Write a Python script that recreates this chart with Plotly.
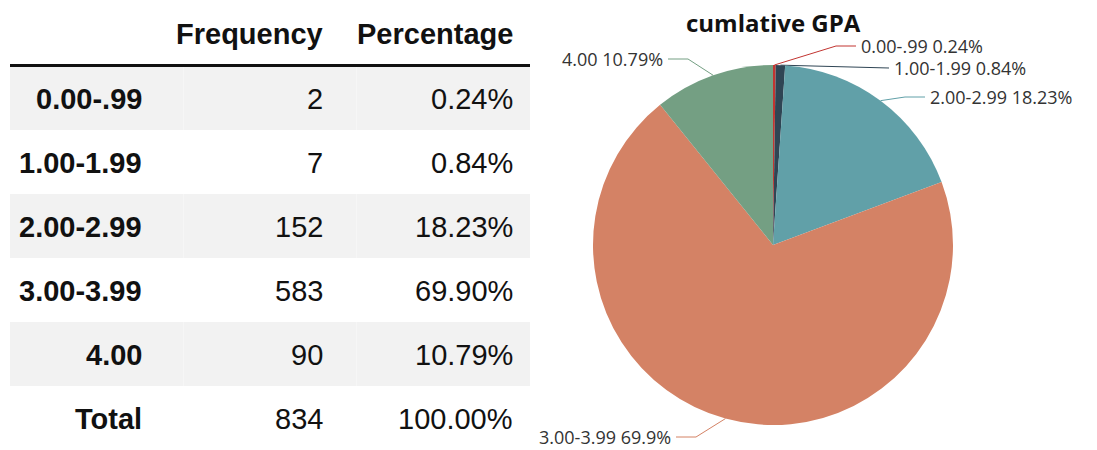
import numpy as np
import plotly.graph_objects as go

# ---------------- data ----------------
categories = ["0.00-.99", "1.00-1.99", "2.00-2.99", "3.00-3.99", "4.00"]
frequency = [2, 7, 152, 583, 90]
percent_table = ["0.24%", "0.84%", "18.23%", "69.90%", "10.79%"]
percent_pie = ["0.24%", "0.84%", "18.23%", "69.9%", "10.79%"]
total_label = "Total"
total_freq = 834
total_pct = "100.00%"
header_labels = ["", "Frequency", "Percentage"]
pie_title = "cumlative GPA"

# ---------------- style ----------------
W, H = 1097, 450
colors = ["#c23531", "#2f4554", "#61a0a8", "#d48265", "#749f83"]
CX, CY, R = 773, 245, 180          # pie centre / radius in px
label_anchor = [("r", 860, 46), ("r", 893, 68), ("r", 929, 97), ("l", 672, 437), ("l", 664, 59)]
tbl_font = "Liberation Sans, Arial, sans-serif"
lbl_font = "Open Sans, sans-serif"
TBL_X0, TBL_X1 = 10, 530
HDR_H, ROW_H = 66, 64
col_right = [144, 325, 515]        # right edge of text in each column (px)
TXT_DY = 1                          # small vertical nudge of cell text

fig = go.Figure()

# ---------------- table ----------------
row_labels = ["<b>%s</b>" % c for c in categories] + ["<b>%s</b>" % total_label]
freq_col = [str(v) for v in frequency] + [str(total_freq)]
pct_col = percent_table + [total_pct]
columns = [row_labels, freq_col, pct_col]
n_rows = len(row_labels)
row_fill = ["#f2f2f2" if i % 2 == 0 else "#ffffff" for i in range(n_rows)]

# table body (cell backgrounds)
fig.add_trace(go.Table(
    domain=dict(x=[TBL_X0 / W, TBL_X1 / W], y=[0, 1]),
    columnwidth=[1, 1, 1],
    header=dict(values=["", "", ""], height=HDR_H, fill_color="white",
                line=dict(color="white", width=0)),
    cells=dict(values=[[""] * n_rows] * 3, height=ROW_H,
               fill_color=[row_fill] * 3, line=dict(color=[row_fill] * 3, width=0)),
    hoverinfo="skip",
))

annotations = []
# header text
for j, h in enumerate(header_labels):
    if h:
        annotations.append(dict(x=col_right[j], y=HDR_H / 2 + TXT_DY, xref="x", yref="y",
                                text="<b>%s</b>" % h, showarrow=False,
                                xanchor="right", yanchor="middle",
                                font=dict(family=tbl_font, size=29, color="#111")))
# cell text
for j, col in enumerate(columns):
    for i, v in enumerate(col):
        annotations.append(dict(x=col_right[j], y=HDR_H + ROW_H * (i + 0.5) + TXT_DY,
                                xref="x", yref="y", text=v, showarrow=False,
                                xanchor="right", yanchor="middle",
                                font=dict(family=tbl_font, size=29, color="#111")))

# ---------------- pie ----------------
fig.add_trace(go.Pie(
    labels=categories, values=frequency, sort=False, direction="clockwise", rotation=0,
    marker=dict(colors=colors, line=dict(width=0)), textinfo="none",
    domain=dict(x=[(CX - R) / W, (CX + R) / W], y=[1 - (CY + R) / H, 1 - (CY - R) / H]),
    showlegend=False, hoverinfo="label+percent",
))

# leader lines + labels (computed from slice mid angles)
vals = np.array(frequency, dtype=float)
cum = np.cumsum(vals) / vals.sum() * 360.0
mids = cum - vals / vals.sum() * 180.0
for i, m in enumerate(mids):
    side, ax, ay = label_anchor[i]
    sx = CX + R * np.sin(np.radians(m))
    sy = CY - R * np.cos(np.radians(m))
    d = 1 if side == "r" else -1
    xs = [sx, ax - 24 * d, ax - 4 * d]
    ys = [sy, ay, ay]
    fig.add_trace(go.Scatter(x=xs, y=ys, mode="lines", line=dict(color=colors[i], width=1),
                             showlegend=False, hoverinfo="skip", xaxis="x", yaxis="y"))
    annotations.append(dict(x=ax, y=ay, xref="x", yref="y", showarrow=False,
                            text="%s %s" % (categories[i], percent_pie[i]),
                            xanchor="left" if side == "r" else "right", yanchor="middle",
                            borderpad=0,
                            font=dict(family=lbl_font, size=18, color="#333")))

annotations.append(dict(x=CX, y=22, xref="x", yref="y", showarrow=False, text="<b>%s</b>" % pie_title,
                        xanchor="center", yanchor="middle",
                        font=dict(family=lbl_font, size=24, color="#111")))

fig.update_layout(
    width=W, height=H, margin=dict(l=0, r=0, t=0, b=0),
    paper_bgcolor="white", plot_bgcolor="rgba(0,0,0,0)",
    xaxis=dict(range=[0, W], visible=False, fixedrange=True, domain=[0, 1]),
    yaxis=dict(range=[H, 0], visible=False, fixedrange=True, domain=[0, 1]),
    annotations=annotations,
    shapes=[dict(type="line", xref="x", yref="y", x0=TBL_X0, x1=TBL_X1, y0=65.5, y1=65.5,
                 line=dict(color="#111", width=3))],
    showlegend=False,
)

fig.write_html("out.html", config={"displayModeBar": False},
               post_script="document.body.style.margin='0';")
